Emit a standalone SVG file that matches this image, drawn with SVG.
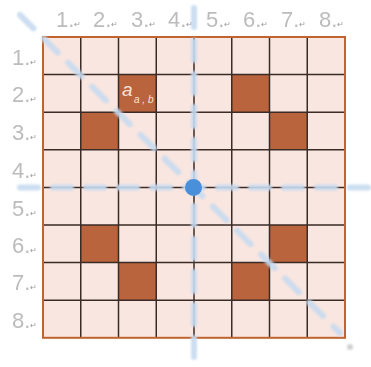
<svg xmlns="http://www.w3.org/2000/svg" width="371" height="367" viewBox="0 0 371 367">
<defs>
<style>
.lbl{font-family:"Liberation Sans","Open Sans",sans-serif;font-size:22px;fill:#bcbcbc}
.mk{font-size:8px;fill:#9a9a9a}
.cell{fill:#f9e6e0}
.dark{fill:#b9643c}
.grid{stroke:#3a2b26;stroke-width:1.5;fill:none}
.dash{stroke:#c6daef;stroke-width:6;stroke-linecap:round;fill:none;opacity:0.9}
</style>
<filter id="soft" x="-10%" y="-10%" width="120%" height="120%"><feGaussianBlur stdDeviation="0.8"/></filter>
</defs>
<g id="board">
<rect class="cell" x="43" y="37" width="302" height="300.8"/>
<rect class="dark" x="118.5" y="74.6" width="37.75" height="37.6"/>
<rect class="dark" x="231.75" y="74.6" width="37.75" height="37.6"/>
<rect class="dark" x="80.75" y="112.2" width="37.75" height="37.6"/>
<rect class="dark" x="269.5" y="112.2" width="37.75" height="37.6"/>
<rect class="dark" x="80.75" y="225" width="37.75" height="37.6"/>
<rect class="dark" x="269.5" y="225" width="37.75" height="37.6"/>
<rect class="dark" x="118.5" y="262.6" width="37.75" height="37.6"/>
<rect class="dark" x="231.75" y="262.6" width="37.75" height="37.6"/>
<path class="grid" d="M80.75 37V337.8M118.5 37V337.8M156.25 37V337.8M194 37V337.8M231.75 37V337.8M269.5 37V337.8M307.25 37V337.8M43 74.6H345M43 112.2H345M43 149.8H345M43 187.4H345M43 225H345M43 262.6H345M43 300.2H345"/>
<rect x="43" y="37" width="302" height="300.8" fill="none" stroke="#c0632f" stroke-width="2"/>
</g>
<g id="cell-label">
<text x="122" y="96" font-family="'Liberation Sans','Open Sans',sans-serif" font-style="italic" font-size="19" fill="#f6e2d6">a</text>
<text x="134" y="103" font-family="'Liberation Sans','Open Sans',sans-serif" font-style="italic" font-size="10" fill="#f6e2d6">a , b</text>
</g>
<g id="connectors" filter="url(#soft)">
<line class="dash" x1="20" y1="187.4" x2="368" y2="187.4" stroke-dasharray="18 15"/>
<line class="dash" x1="194" y1="8" x2="194" y2="362" stroke-dasharray="19 14"/>
<line class="dash" x1="20" y1="15" x2="340" y2="333" stroke-dasharray="19 15"/>
<circle cx="350" cy="347" r="3" fill="#d0d0d0"/>
</g>
<g id="col-labels" class="lbl">
<text x="56" y="27">1.<tspan class="mk">↵</tspan></text>
<text x="93" y="27">2.<tspan class="mk">↵</tspan></text>
<text x="131" y="27">3.<tspan class="mk">↵</tspan></text>
<text x="168" y="27">4.<tspan class="mk">↵</tspan></text>
<text x="206" y="27">5.<tspan class="mk">↵</tspan></text>
<text x="243" y="27">6.<tspan class="mk">↵</tspan></text>
<text x="281" y="27">7.<tspan class="mk">↵</tspan></text>
<text x="319" y="27">8.<tspan class="mk">↵</tspan></text>
</g>
<g id="row-labels" class="lbl">
<text x="12" y="65">1.<tspan class="mk">↵</tspan></text>
<text x="12" y="102">2.<tspan class="mk">↵</tspan></text>
<text x="12" y="140">3.<tspan class="mk">↵</tspan></text>
<text x="12" y="178">4.<tspan class="mk">↵</tspan></text>
<text x="12" y="216">5.<tspan class="mk">↵</tspan></text>
<text x="12" y="253">6.<tspan class="mk">↵</tspan></text>
<text x="12" y="290">7.<tspan class="mk">↵</tspan></text>
<text x="12" y="328">8.<tspan class="mk">↵</tspan></text>
</g>
<g id="center">
<circle cx="193.5" cy="187.4" r="8.5" fill="#4a8fd9"/>
</g>
</svg>
